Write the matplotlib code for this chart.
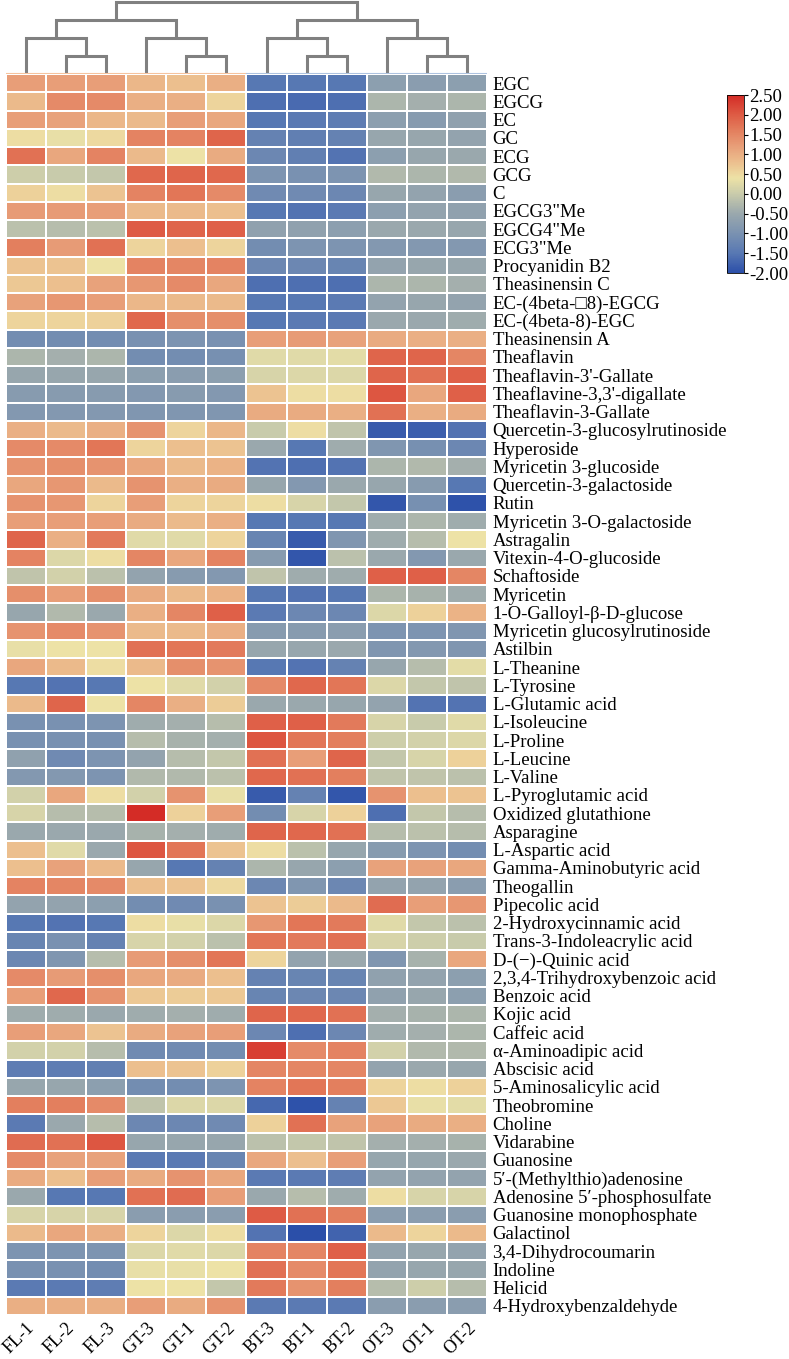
import numpy as np
import matplotlib
matplotlib.use("Agg")
import matplotlib.pyplot as plt
from matplotlib.colors import LinearSegmentedColormap, Normalize
from matplotlib.colorbar import ColorbarBase

plt.rcParams['font.family'] = ['Liberation Serif', 'DejaVu Serif']
plt.rcParams['axes.unicode_minus'] = False

# samples (column order after clustering)
samples = ['FL-1', 'FL-2', 'FL-3', 'GT-3', 'GT-1', 'GT-2',
           'BT-3', 'BT-1', 'BT-2', 'OT-3', 'OT-1', 'OT-2']

compounds = [
    'EGC', 'EGCG', 'EC', 'GC', 'ECG', 'GCG', 'C', 'EGCG3"Me', 'EGCG4"Me', 'ECG3"Me',
    'Procyanidin B2', 'Theasinensin C', 'EC-(4beta-\u25a18)-EGCG', 'EC-(4beta-8)-EGC',
    'Theasinensin A', 'Theaflavin', "Theaflavin-3'-Gallate", "Theaflavine-3,3'-digallate",
    'Theaflavin-3-Gallate', 'Quercetin-3-glucosylrutinoside', 'Hyperoside',
    'Myricetin 3-glucoside', 'Quercetin-3-galactoside', 'Rutin',
    'Myricetin 3-O-galactoside', 'Astragalin', 'Vitexin-4-O-glucoside', 'Schaftoside',
    'Myricetin', '1-O-Galloyl-\u03b2-D-glucose', 'Myricetin glucosylrutinoside', 'Astilbin',
    'L-Theanine', 'L-Tyrosine', 'L-Glutamic acid', 'L-Isoleucine', 'L-Proline',
    'L-Leucine', 'L-Valine', 'L-Pyroglutamic acid', 'Oxidized glutathione', 'Asparagine',
    'L-Aspartic acid', 'Gamma-Aminobutyric acid', 'Theogallin', 'Pipecolic acid',
    '2-Hydroxycinnamic acid', 'Trans-3-Indoleacrylic acid', 'D-(\u2212)-Quinic acid',
    '2,3,4-Trihydroxybenzoic acid', 'Benzoic acid', 'Kojic acid', 'Caffeic acid',
    '\u03b1-Aminoadipic acid', 'Abscisic acid', '5-Aminosalicylic acid', 'Theobromine',
    'Choline', 'Vidarabine', 'Guanosine', '5\u2032-(Methylthio)adenosine',
    'Adenosine 5\u2032-phosphosulfate', 'Guanosine monophosphate', 'Galactinol',
    '3,4-Dihydrocoumarin', 'Indoline', 'Helicid', '4-Hydroxybenzaldehyde',
]

# z-scores, one list per compound
zscores = [
    [1.2, 1.2, 1.2, 0.9, 0.8, 1.0, -1.5, -1.5, -1.5, -0.7, -0.75, -0.7],
    [0.85, 1.45, 1.45, 1.0, 1.0, 0.55, -1.6, -1.65, -1.6, -0.3, -0.4, -0.3],
    [1.2, 1.15, 0.9, 0.85, 1.2, 1.1, -1.5, -1.45, -1.4, -0.7, -0.8, -0.65],
    [0.45, 0.35, 0.5, 1.55, 1.55, 1.9, -1.3, -1.35, -1.3, -0.55, -0.55, -0.6],
    [1.75, 1.1, 1.55, 0.85, 0.4, 1.05, -1.2, -1.35, -1.55, -0.7, -0.55, -0.5],
    [0.05, 0.0, -0.05, 1.85, 1.9, 1.85, -0.95, -1.0, -0.95, -0.25, -0.3, -0.25],
    [0.6, 0.45, 0.75, 1.55, 1.7, 1.45, -1.15, -1.15, -1.2, -0.55, -0.6, -0.75],
    [1.25, 1.25, 1.2, 0.85, 0.85, 0.8, -1.5, -1.55, -1.45, -0.7, -0.6, -0.65],
    [-0.15, -0.2, -0.15, 2.0, 1.9, 1.95, -0.65, -0.65, -0.7, -0.5, -0.5, -0.55],
    [1.6, 1.25, 1.75, 0.55, 0.8, 0.55, -1.1, -0.95, -0.95, -0.85, -0.85, -0.85],
    [0.75, 0.75, 0.4, 1.55, 1.5, 1.55, -1.2, -1.2, -1.25, -0.6, -0.55, -0.55],
    [0.7, 0.8, 1.15, 1.3, 1.45, 1.1, -1.6, -1.6, -1.6, -0.3, -0.3, -0.4],
    [1.15, 1.3, 1.2, 0.9, 0.85, 0.85, -1.5, -1.5, -1.45, -0.6, -0.55, -0.6],
    [0.55, 0.55, 0.6, 1.85, 1.4, 1.4, -1.5, -1.45, -1.45, -0.5, -0.5, -0.45],
    [-1.1, -1.1, -1.1, -1.0, -0.95, -1.0, 1.2, 1.25, 1.15, 1.05, 1.0, 1.0],
    [-0.3, -0.4, -0.3, -1.1, -1.1, -1.05, 0.25, 0.25, 0.3, 1.9, 1.9, 1.5],
    [-0.55, -0.55, -0.55, -0.7, -0.75, -0.7, 0.15, 0.2, 0.2, 1.9, 1.75, 1.95],
    [-0.8, -0.8, -0.8, -0.85, -0.8, -0.85, 0.75, 0.45, 0.45, 2.05, 1.1, 1.95],
    [-0.85, -0.85, -0.85, -0.9, -0.9, -0.9, 1.05, 1.05, 1.0, 1.75, 1.0, 1.05],
    [1.0, 0.85, 1.0, 1.35, 0.55, 0.9, 0.0, 0.45, -0.1, -1.85, -1.8, -1.55],
    [1.45, 1.45, 1.7, 0.55, 0.8, 0.75, -0.5, -1.5, -0.45, -0.9, -1.05, -1.2],
    [1.35, 1.4, 1.35, 1.1, 0.85, 0.95, -1.55, -1.6, -1.55, -0.3, -0.25, -0.4],
    [1.1, 1.3, 0.85, 1.35, 1.0, 1.05, -0.55, -0.85, -0.5, -0.55, -0.8, -1.5],
    [1.35, 1.3, 0.55, 1.2, 0.55, 0.55, 0.45, 0.15, -0.05, -1.9, -1.05, -1.95],
    [1.2, 1.2, 1.2, 1.05, 0.85, 1.0, -1.5, -1.5, -1.5, -0.45, -0.3, -0.45],
    [1.9, 1.0, 1.65, 0.25, 0.25, 0.55, -1.25, -1.85, -0.9, -0.45, -0.2, 0.4],
    [1.55, 0.2, 0.45, 1.5, 1.1, 1.55, -0.8, -1.9, -0.15, -0.5, -0.85, -0.5],
    [-0.1, 0.1, -0.15, -0.6, -0.8, -0.85, -0.1, -0.45, -0.45, 1.95, 1.95, 1.5],
    [1.4, 1.2, 1.4, 1.05, 0.85, 0.95, -1.5, -1.55, -1.5, -0.3, -0.35, -0.45],
    [-0.55, -0.25, -0.5, 1.0, 1.5, 1.95, -1.45, -1.2, -1.2, 0.2, 0.6, 0.95],
    [1.35, 1.45, 1.35, 0.85, 0.85, 1.0, -0.8, -0.8, -0.75, -0.95, -0.95, -0.9],
    [0.35, 0.4, 0.4, 1.75, 1.7, 1.65, -0.55, -0.55, -0.5, -0.9, -0.85, -0.9],
    [1.1, 0.85, 0.45, 0.85, 1.4, 1.35, -1.5, -1.55, -1.3, -0.55, -0.2, 0.3],
    [-1.5, -1.55, -1.5, 0.4, 0.25, 0.1, 1.45, 1.85, 1.7, 0.2, -0.05, -0.1],
    [0.85, 1.9, 0.4, 1.5, 1.0, 0.65, -0.5, -0.5, -0.55, -0.6, -1.55, -1.55],
    [-1.0, -1.0, -0.95, -0.45, -0.4, -0.2, 1.95, 1.95, 1.65, 0.15, 0.0, 0.25],
    [-1.0, -1.0, -1.0, -0.2, -0.35, -0.4, 2.05, 1.7, 1.6, 0.05, 0.1, 0.2],
    [-0.65, -1.15, -0.95, -0.6, -0.2, -0.05, 1.75, 1.2, 1.9, -0.05, 0.15, 0.6],
    [-0.85, -0.85, -0.95, -0.25, -0.25, -0.15, 1.85, 1.75, 1.6, -0.1, -0.1, -0.15],
    [0.1, 1.1, 0.45, 0.1, 1.35, 0.35, -1.85, -1.3, -1.9, 1.35, 0.8, 0.75],
    [0.15, -0.2, -0.2, 2.5, 0.6, 1.2, -1.1, 0.15, 0.6, -1.6, -0.05, -0.2],
    [-0.5, -0.5, -0.5, -0.35, -0.4, -0.45, 1.9, 1.85, 1.75, -0.2, -0.15, -0.2],
    [0.8, 0.25, -0.5, 2.05, 1.7, 0.75, 0.45, -0.15, -0.55, -0.8, -0.95, -1.1],
    [0.8, 1.15, 0.85, -0.55, -1.5, -1.3, -0.3, -0.55, -0.7, 1.15, 1.15, 1.1],
    [1.55, 1.5, 1.45, 0.8, 0.75, 0.5, -1.2, -0.9, -1.2, -0.6, -0.6, -0.75],
    [-0.6, -0.6, -0.7, -1.1, -1.15, -1.0, 0.75, 0.65, 0.85, 1.8, 1.2, 1.3],
    [-1.5, -1.55, -1.5, 0.45, 0.35, 0.2, 1.3, 1.7, 1.65, 0.25, -0.05, -0.15],
    [-1.25, -1.0, -1.3, 0.15, 0.1, -0.15, 1.7, 1.65, 1.75, 0.15, 0.05, 0.0],
    [-1.2, -0.9, -0.2, 1.25, 1.4, 1.7, 0.55, -0.6, -0.5, -0.9, -0.35, 1.1],
    [1.45, 1.25, 1.4, 1.1, 1.05, 0.8, -1.3, -1.25, -1.25, -0.65, -0.6, -0.7],
    [1.2, 1.85, 1.35, 0.7, 0.65, 0.7, -1.25, -1.2, -1.2, -0.65, -0.55, -0.7],
    [-0.45, -0.45, -0.5, -0.45, -0.4, -0.45, 1.9, 1.85, 1.75, -0.4, -0.35, -0.3],
    [1.2, 1.1, 0.75, 1.05, 1.15, 1.2, -1.2, -1.6, -1.2, -0.45, -0.4, -0.3],
    [0.1, 0.1, -0.2, -1.15, -1.15, -1.1, 2.3, 1.45, 1.55, 0.1, -0.25, -0.25],
    [-1.4, -1.4, -1.35, 0.8, 0.75, 0.6, 1.5, 1.5, 1.5, -0.6, -0.5, -0.55],
    [-0.55, -0.55, -0.7, -1.1, -1.1, -0.95, 1.55, 1.7, 1.6, 0.55, 0.45, 0.6],
    [1.6, 1.6, 1.45, -0.1, 0.2, 0.2, -1.7, -1.95, -1.3, 0.7, 0.35, 0.3],
    [-1.45, -0.5, -0.2, -1.2, -1.2, -1.15, 0.6, 1.75, 1.15, 1.15, 1.05, 1.0],
    [1.8, 1.75, 2.05, -0.55, -0.55, -0.55, -0.15, -0.05, -0.1, -0.4, -0.4, -0.35],
    [1.45, 1.15, 1.15, -1.45, -1.45, -1.25, 1.1, 0.8, 1.2, -0.55, -0.55, -0.5],
    [1.05, 0.8, 1.2, 1.05, 1.35, 1.1, -1.45, -1.45, -1.4, -0.6, -0.6, -0.6],
    [-0.5, -1.5, -1.5, 1.75, 1.8, 1.2, -0.5, -0.2, -0.45, 0.45, 0.15, 0.15],
    [0.15, 0.15, 0.15, -0.75, -0.75, -0.75, 2.0, 1.75, 1.6, -0.75, -0.75, -0.75],
    [0.85, 1.1, 1.0, 0.55, 0.2, 0.45, -1.55, -2.05, -1.75, 0.85, 0.55, 0.85],
    [-0.95, -0.95, -0.95, 0.2, 0.25, 0.2, 1.55, 1.5, 1.95, -0.6, -0.55, -0.6],
    [-1.0, -1.0, -1.1, 0.35, 0.35, 0.4, 1.75, 1.45, 1.7, -0.6, -0.55, -0.55],
    [-1.45, -1.45, -1.4, 0.4, 0.4, -0.05, 1.65, 1.35, 1.6, -0.2, 0.05, -0.2],
    [1.0, 1.0, 1.0, 1.2, 1.05, 1.35, -1.45, -1.45, -1.45, -0.75, -0.75, -0.75],
]

# column dendrogram: (left node, right node, height), nodes > 11 are earlier merges
merges = [(1, 2, 1.0), (4, 5, 1.0), (7, 8, 1.0), (10, 11, 1.0),
          (0, 12, 2.0), (3, 13, 2.0), (6, 14, 2.0), (9, 15, 2.0),
          (16, 17, 3.0), (18, 19, 3.0), (20, 21, 4.0)]
leaf_groups = [0, 0, 0, 0, 0, 0, 1, 1, 1, 1, 1, 1]

vmin, vmax = -2.0, 2.5
cb_ticks = [-2.0, -1.5, -1.0, -0.5, 0.0, 0.5, 1.0, 1.5, 2.0, 2.5]

anchors = [(-2.0, '#2b4fa9'), (-1.5, '#5878b3'), (-1.0, '#7a92b1'), (-0.5, '#9aa8ad'),
           (0.0, '#c9cbab'), (0.4, '#ede2a6'), (0.8, '#ecbf8e'), (1.2, '#e89f79'),
           (1.6, '#e37f5e'), (2.0, '#de5c45'), (2.5, '#d42c26')]
cmap = LinearSegmentedColormap.from_list(
    'tea', [((v - vmin) / (vmax - vmin), c) for v, c in anchors])
norm = Normalize(vmin=vmin, vmax=vmax)

W, H = 789, 1359
fig = plt.figure(figsize=(W / 100, H / 100), dpi=100)

left, right = 6 / W, 487 / W
top, bottom = 1 - 74 / H, 1 - 1315 / H

# heatmap
ax = fig.add_axes([left, bottom, right - left, top - bottom])
data = np.array(zscores)
ax.pcolormesh(data, cmap=cmap, norm=norm, edgecolors='white', linewidth=1.2)
ax.set_xlim(0, len(samples))
ax.set_ylim(len(compounds), 0)
for s in ax.spines.values():
    s.set_visible(False)
ax.yaxis.tick_right()
ax.set_yticks(np.arange(len(compounds)) + 0.5)
ax.set_yticklabels(compounds, fontsize=13.5)
ax.set_xticks(np.arange(len(samples)) + 0.5)
ax.set_xticklabels(samples, fontsize=13, rotation=45, ha='right', va='top',
                   rotation_mode='anchor')
ax.tick_params(length=0, pad=4)
ax.tick_params(axis='x', pad=3)

# dendrogram on top
dax = fig.add_axes([left, top, right - left, 1 - top])
pos = {i: i + 0.5 for i in range(len(samples))}
hts = {i: 0.0 for i in range(len(samples))}
for k, (a, b, h) in enumerate(merges):
    node = len(samples) + k
    xa, xb = pos[a], pos[b]
    dax.plot([xa, xa, xb, xb], [hts[a], h, h, hts[b]], color='#808080', lw=2.2,
             solid_capstyle='butt', solid_joinstyle='miter')
    pos[node] = (xa + xb) / 2
    hts[node] = h
group_colors = ['#f6c39e', '#aec3e0']
for i, g in enumerate(leaf_groups):
    dax.plot([i + 0.02, i + 0.98], [0.02, 0.02], color=group_colors[g], lw=1.5)
dax.set_xlim(0, len(samples))
dax.set_ylim(0, 4.1)
dax.axis('off')

# colorbar
cax = fig.add_axes([727 / W, 1 - 273 / H, 17 / W, 178 / H])
cb = ColorbarBase(cax, cmap=cmap, norm=norm, ticks=cb_ticks)
cb.ax.set_yticklabels(['%.2f' % t for t in cb_ticks], fontsize=13.5)
cb.ax.tick_params(length=3, width=0.8, pad=1)
cb.outline.set_linewidth(0.6)

fig.savefig('out.png', dpi=100)
